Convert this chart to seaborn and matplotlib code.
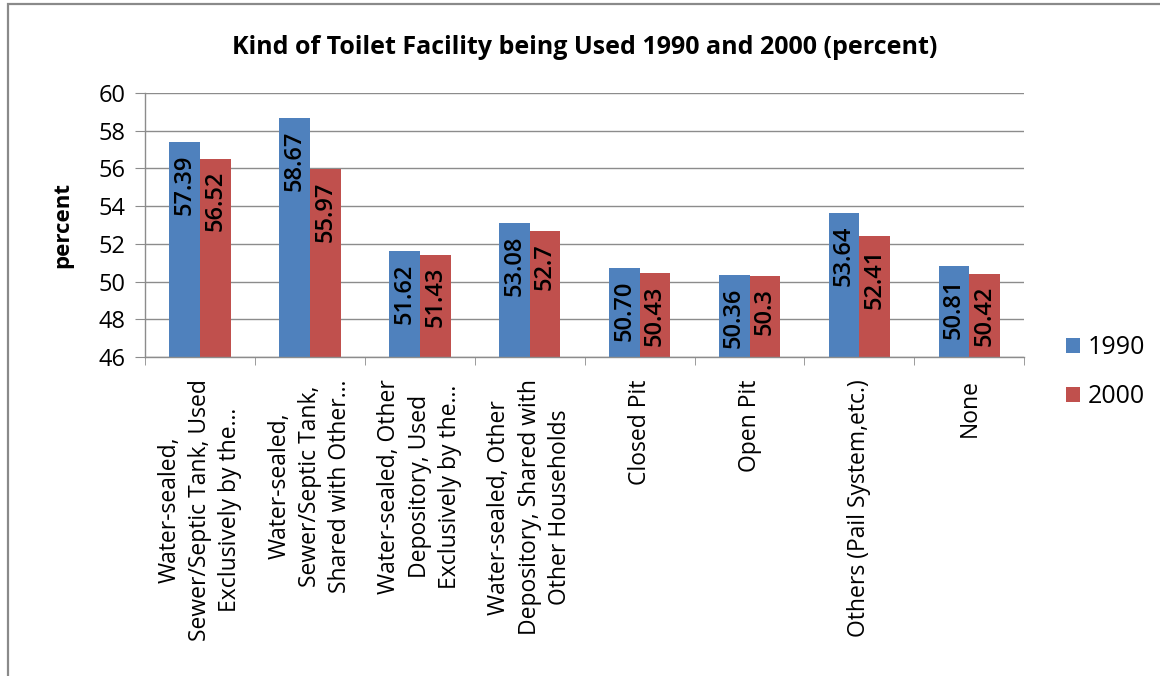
import pandas as pd
import matplotlib.pyplot as plt
import seaborn as sns
from matplotlib.patches import Rectangle

# Datos
categorias = [
    "Water-sealed,\nSewer/Septic Tank, Used\nExclusively by the...",
    "Water-sealed,\nSewer/Septic Tank,\nShared with Other...",
    "Water-sealed, Other\nDepository, Used\nExclusively by the...",
    "Water-sealed, Other\nDepository, Shared with\nOther Households",
    "Closed Pit",
    "Open Pit",
    "Others (Pail System,etc.)",
    "None",
]
valores_1990 = [57.39, 58.67, 51.62, 53.08, 50.70, 50.36, 53.64, 50.81]
valores_2000 = [56.52, 55.97, 51.43, 52.70, 50.43, 50.30, 52.41, 50.42]
etiquetas_1990 = ["57.39", "58.67", "51.62", "53.08", "50.70", "50.36", "53.64", "50.81"]
etiquetas_2000 = ["56.52", "55.97", "51.43", "52.7", "50.43", "50.3", "52.41", "50.42"]
anios = ["1990", "2000"]

df = pd.DataFrame({
    "Tipo": categorias * 2,
    "percent": valores_1990 + valores_2000,
    "Año": [anios[0]] * len(categorias) + [anios[1]] * len(categorias),
})

sns.set_style("white")
plt.rcParams["font.family"] = ["Open Sans", "DejaVu Sans"]
plt.rcParams["text.color"] = "black"
plt.rcParams["axes.labelcolor"] = "black"
plt.rcParams["xtick.labelcolor"] = "black"
plt.rcParams["ytick.labelcolor"] = "black"

fig = plt.figure(figsize=(11.6, 6.76), dpi=100)
ax = fig.add_axes([0.125, 0.472, 0.758, 0.3904])

sns.barplot(data=df, x="Tipo", y="percent", hue="Año",
            palette=["#4F81BD", "#C0504D"], width=0.56, gap=0,
            saturation=1, edgecolor="none", ax=ax)

ax.set_ylim(46, 60)
ax.set_yticks(range(46, 61, 2))
ax.set_xlim(-0.5, len(categorias) - 0.5)
ax.yaxis.grid(True, color="#8c8c8c", lw=1)
ax.set_axisbelow(True)
for s in ["top", "right"]:
    ax.spines[s].set_visible(False)
for s in ["left", "bottom"]:
    ax.spines[s].set_color("#8c8c8c")
    ax.spines[s].set_linewidth(1)

ax.tick_params(axis="y", length=7, color="#8c8c8c", pad=7, labelsize=17, left=True)
ax.set_xticks([i + 0.5 for i in range(-1, len(categorias))], minor=True)
ax.tick_params(axis="x", which="minor", length=6, color="#8c8c8c", bottom=True)
ax.tick_params(axis="x", which="major", length=0, pad=16, labelsize=16.5, labelrotation=90)
for lab in ax.get_xticklabels():
    lab.set_multialignment("center")
    lab.set_linespacing(1.35)

ax.set_xlabel("")
ax.set_ylabel("percent", fontsize=16, fontweight="bold", labelpad=18)
ax.set_title("Kind of Toilet Facility being Used 1990 and 2000 (percent)",
             fontsize=18, fontweight="bold", x=0.5, pad=28)

# etiquetas dentro de las barras
for cont, etiquetas in zip(ax.containers, [etiquetas_1990, etiquetas_2000]):
    for barra, txt in zip(cont.patches, etiquetas):
        ax.annotate(txt, (barra.get_x() + barra.get_width() / 2, barra.get_height()),
                    xytext=(0, -9), textcoords="offset points", rotation=90,
                    ha="center", va="top", fontsize=17, fontweight="semibold",
                    color="black")

handles, labels = ax.get_legend_handles_labels()
ax.legend(handles, labels, loc="center left", bbox_to_anchor=(0.919, 0.4497),
          bbox_transform=fig.transFigure, frameon=False, fontsize=18,
          handlelength=0.55, handleheight=0.55, handletextpad=0.3,
          labelspacing=0.95, borderpad=0, borderaxespad=0)

# marco exterior estilo Excel
fig.add_artist(Rectangle((0.0069, -0.1), 1.2, 1.094, transform=fig.transFigure,
                         fill=False, edgecolor="#8a8a8a", lw=1.6))

fig.savefig("out.png", dpi=100)
